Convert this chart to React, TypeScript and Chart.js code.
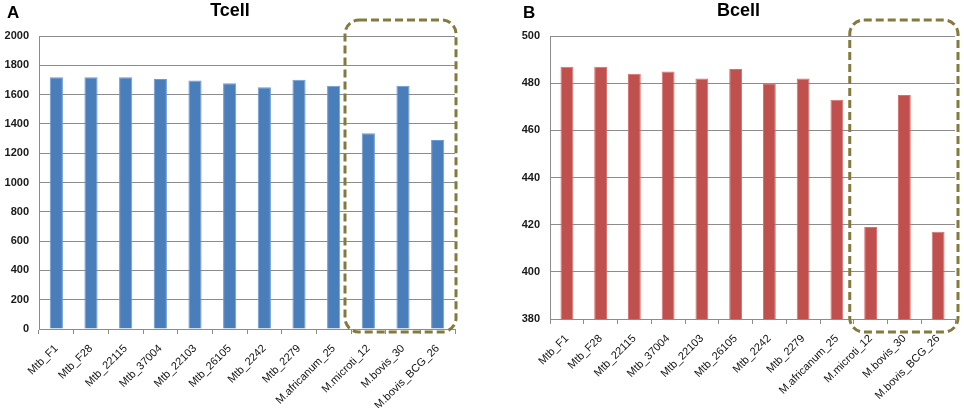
import { useEffect, useRef } from 'react'
import { Chart, registerables } from 'chart.js'

Chart.register(...registerables)

const strains = [
  'Mtb_F1', 'Mtb_F28', 'Mtb_22115', 'Mtb_37004', 'Mtb_22103', 'Mtb_26105',
  'Mtb_2242', 'Mtb_2279', 'M.africanum_25', 'M.microti_12', 'M.bovis_30', 'M.bovis_BCG_26',
]
const tcellValues = [1718, 1718, 1718, 1706, 1696, 1678, 1650, 1701, 1660, 1337, 1660, 1290]
const bcellValues = [487, 487, 484, 485, 482, 486, 480, 482, 473, 419, 475, 417]

// index of first strain inside the dashed box
const boxFrom = 9

const headerPlugin = {
  id: 'header',
  afterDraw(chart: any, _args: any, opts: any) {
    const { ctx, chartArea } = chart
    ctx.save()
    ctx.fillStyle = '#000'
    ctx.textBaseline = 'middle'
    ctx.font = 'bold 17px "Liberation Sans", Arial, sans-serif'
    ctx.textAlign = 'left'
    ctx.fillText(opts.letter, opts.letterX, 13)
    ctx.font = 'bold 18px "Liberation Sans", Arial, sans-serif'
    ctx.textAlign = 'center'
    ctx.fillText(opts.title, (chartArea.left + chartArea.right) / 2 + opts.titleShift, 11)
    ctx.restore()
  },
}

const boxPlugin = {
  id: 'dashBox',
  afterDraw(chart: any, _args: any, opts: any) {
    const { ctx, chartArea } = chart
    const x = chart.scales.x
    const half = (x.getPixelForValue(1) - x.getPixelForValue(0)) / 2
    const left = x.getPixelForValue(boxFrom) - half + opts.dl
    const right = chartArea.right + opts.dr
    const top = chartArea.top - 16
    const bottom = chartArea.bottom + opts.db
    ctx.save()
    ctx.strokeStyle = '#857a3e'
    ctx.lineWidth = 3
    ctx.setLineDash([8, 4])
    ctx.beginPath()
    ctx.roundRect(left, top, right - left, bottom - top, 14)
    ctx.stroke()
    ctx.restore()
  },
}

type PanelProps = {
  letter: string
  title: string
  values: number[]
  fill: string
  edge: string
  min: number
  max: number
  step: number
  yWidth: number
  xHeight: number
  padRight: number
  letterX: number
  titleShift: number
  box: { dl: number; dr: number; db: number }
}

function Panel(p: PanelProps) {
  const canvasRef = useRef<HTMLCanvasElement | null>(null)

  useEffect(() => {
    const chart = new Chart(canvasRef.current as HTMLCanvasElement, {
      type: 'bar',
      data: {
        labels: strains,
        datasets: [
          {
            data: p.values,
            backgroundColor: p.fill,
            borderColor: p.edge,
            borderWidth: 1,
            barPercentage: 0.38,
            categoryPercentage: 1,
          },
        ],
      },
      options: {
        animation: false,
        responsive: true,
        maintainAspectRatio: false,
        layout: { padding: { top: 36, right: p.padRight, left: 0, bottom: 0 } },
        plugins: {
          legend: { display: false },
          tooltip: { enabled: false },
          header: { letter: p.letter, title: p.title, letterX: p.letterX, titleShift: p.titleShift },
          dashBox: p.box,
        } as any,
        scales: {
          x: {
            afterFit: (s: any) => { s.height = p.xHeight },
            grid: { offset: true, drawOnChartArea: false, tickLength: 5, color: '#8c8c8c' },
            border: { color: '#8c8c8c' },
            ticks: {
              minRotation: 45,
              maxRotation: 45,
              padding: 8,
              color: '#111',
              font: { family: '"Liberation Sans", Arial, sans-serif', size: 11 },
            },
          },
          y: {
            min: p.min,
            max: p.max,
            afterFit: (s: any) => { s.width = p.yWidth },
            grid: { color: '#8c8c8c', drawTicks: false },
            border: { color: '#8c8c8c' },
            ticks: {
              stepSize: p.step,
              padding: 10,
              color: '#1a1a1a',
              callback: (v: any) => String(v),
              font: { family: '"Liberation Sans", Arial, sans-serif', size: 11, weight: 'bold' },
            },
          },
        },
      },
      plugins: [headerPlugin, boxPlugin],
    })
    return () => chart.destroy()
  }, [])

  return (
    <div style={{ position: 'relative', width: 482, height: 408 }}>
      <canvas ref={canvasRef} />
    </div>
  )
}

export default function App() {
  return (
    <div style={{ position: 'fixed', top: 0, left: 0, width: 964, height: 408, display: 'flex', background: '#fff' }}>
      <Panel
        letter="A"
        title="Tcell"
        values={tcellValues}
        fill="#4a7ebb"
        edge="#6b9bd6"
        min={0}
        max={2000}
        step={200}
        yWidth={39}
        xHeight={79}
        padRight={27}
        letterX={7}
        titleShift={-17}
        box={{ dl: -6, dr: 1, db: 3 }}
      />
      <Panel
        letter="B"
        title="Bcell"
        values={bcellValues}
        fill="#c0504d"
        edge="#d8716e"
        min={380}
        max={500}
        step={20}
        yWidth={68}
        xHeight={89}
        padRight={9}
        letterX={41}
        titleShift={-14}
        box={{ dl: -4, dr: 3, db: 13 }}
      />
    </div>
  )
}
